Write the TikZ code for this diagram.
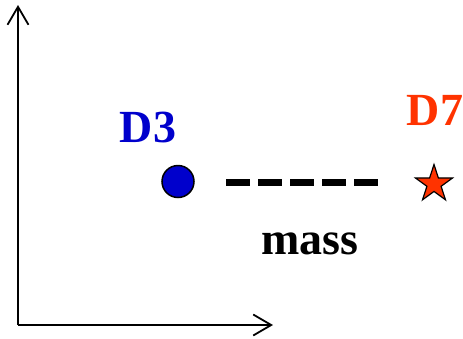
\documentclass[tikz,border=0pt]{standalone}
\usepackage{fontspec}
\setmainfont{Liberation Serif}
\usetikzlibrary{arrows.meta,shapes.geometric}
\definecolor{dblue}{RGB}{0,0,204}
\definecolor{dred}{RGB}{255,51,0}
\tikzset{
  axis/.style={line width=1.8pt,-{Straight Barb[length=18pt,width=21pt,line width=1.8pt]}},
  lbl/.style={font=\bfseries\fontsize{46}{50}\selectfont,anchor=base,inner sep=0pt},
}
\begin{document}
\begin{tikzpicture}[x=1pt,y=-1pt]
\useasboundingbox (0,0) rectangle (463,338);
\coordinate (o) at (18,325);
\coordinate (ytip) at (18,5);
\coordinate (xtip) at (273,325);
\draw[axis] (o) -- (ytip);
\draw[axis] (o) -- (xtip);
\node[circle,draw=black,line width=1.5pt,fill=dblue,minimum size=32pt,inner sep=0pt] (d3pt) at (178,181.5) {};
\node[star,star points=5,star point ratio=2.618,draw=black,line width=1.2pt,fill=dred,minimum size=39pt,inner sep=0pt] (d7pt) at (434,184) {};
\coordinate (ds) at (226,182);
\coordinate (de) at (378,182);
\draw[line width=7pt,dash pattern=on 24pt off 8pt] (ds) -- (de);
\node[lbl,text=dblue] (d3) at (148,142) {D3};
\node[lbl,text=dred] (d7) at (435,125) {D7};
\node[lbl,text=black] (mass) at (310,254) {mass};
\end{tikzpicture}
\end{document}
